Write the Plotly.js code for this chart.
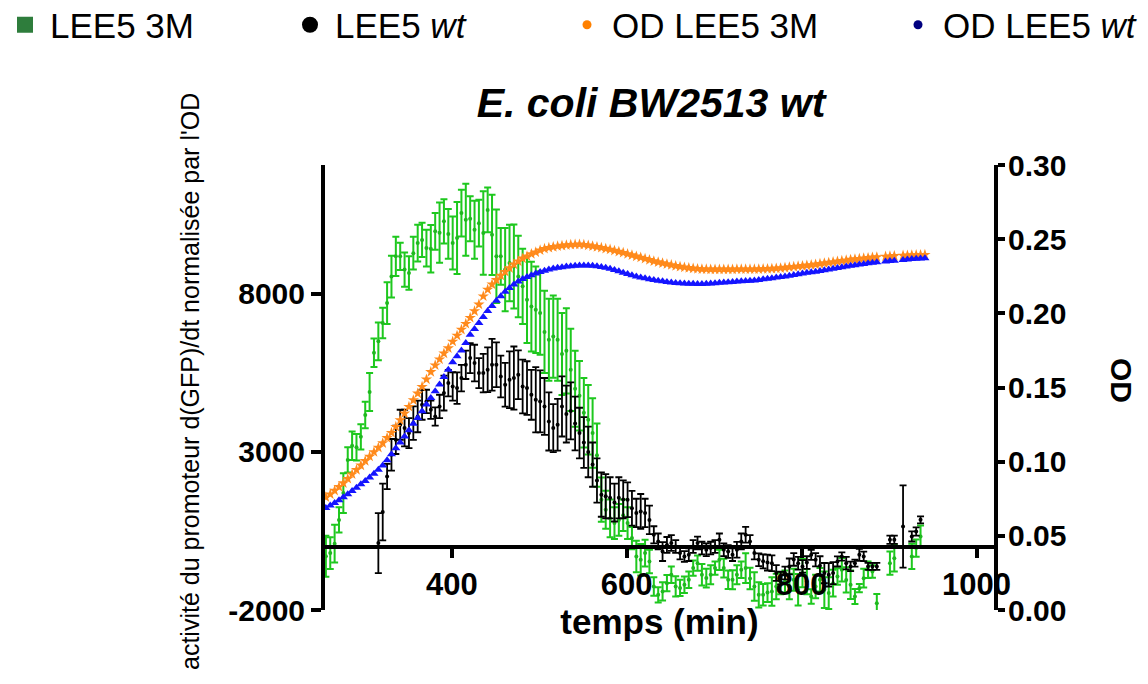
<!DOCTYPE html>
<html>
<head>
<meta charset="utf-8">
<script src="https://cdn.plot.ly/plotly-3.0.1.min.js"></script>
<style>
html,body{margin:0;padding:0;background:#fff;}
#chart{width:1148px;height:684px;}
</style>
</head>
<body>
<div id="chart"></div>
<script>
// time (min)
const timeMin = [
256,261,266,271,276,281,286,291,296,301,
306,311,316,321,326,331,336,341,346,351,
356,361,366,371,376,381,386,391,396,401,
406,411,416,421,426,431,436,441,446,451,
456,461,466,471,476,481,486,491,496,501,
506,511,516,521,526,531,536,541,546,551,
556,561,566,571,576,581,586,591,596,601,
606,611,616,621,626,631,636,641,646,651,
656,661,666,671,676,681,686,691,696,701,
706,711,716,721,726,731,736,741,746,751,
756,761,766,771,776,781,786,791,796,801,
806,811,816,821,826,831,836,841,846,851,
856,861,866,871,876,881,886,891,896,901,
906,911,916,921,926,931,936,941];

// LEE5 3M : d(GFP)/dt / OD
const lee5_3M = [
-300,-200,100,850,1700,2750,3200,3150,3480,4170,
4900,6140,6500,7080,7710,8550,9190,9190,8770,8660,
9290,9610,9710,9450,9430,9980,9940,10300,9900,9610,
9770,10560,10350,10380,10030,10240,9930,10660,9870,9190,
9190,8770,8980,8870,8550,8240,7820,7600,7500,7400,
6800,6550,6650,6550,6100,6200,5600,5000,4780,4240,
4020,3600,2900,1490,1170,900,750,850,1000,750,
275,-306,-411,-200,-464,-1256,-1519,-1413,-1150,-886,
-1256,-1300,-1200,-1044,-675,-517,-886,-991,-886,-675,
-411,-675,-1044,-1044,-886,-728,-675,-1000,-1256,-1519,
-1519,-1450,-1413,-1256,-1150,-1100,-1256,-1044,-1360,-833,
-1100,-1572,-1255,-1044,-1360,-1466,-1150,-939,-728,-1050,
-1203,-1572,-1308,-992,-728,-781,-1783,null,null,-517,
-359,null,null,null,-306,-42,327,null];
const lee5_3M_err = [
650,500,600,400,630,400,450,420,400,420,
600,450,600,480,660,660,620,430,540,530,
520,580,540,580,750,580,950,700,790,840,
1140,740,1140,710,920,740,1320,710,1270,1480,
900,1320,1210,1330,1290,1190,1370,1420,1370,1320,
1300,1300,1300,1300,1300,1350,1300,1200,1100,1100,
1100,1100,1000,700,600,600,500,500,500,500,
350,500,500,420,370,290,240,290,260,260,
320,260,260,260,240,240,340,300,300,210,
320,300,290,300,300,260,470,340,450,400,
340,300,450,400,350,350,400,350,500,450,
400,230,370,370,580,500,420,260,370,400,
450,240,130,300,260,200,290,0,0,370,
420,0,0,0,400,270,350,0];

// LEE5 wt : d(GFP)/dt / OD
const lee5_wt = [
null,null,null,null,null,null,null,null,null,null,
null,null,117,1100,2225,2911,3386,3861,3756,3597,
3914,4124,4494,4599,4335,4124,4440,4863,5180,5073,
5021,5338,5759,5971,5813,5496,5496,5601,5759,5759,
5390,5127,5285,5338,5443,5073,5021,4810,4652,4600,
4440,3966,3756,3861,4440,4200,4300,3900,3600,3300,
3000,2600,2100,1650,1600,1550,1400,1550,1500,1490,
1220,1070,1120,1070,850,380,170,-150,60,120,
10,-200,-306,-250,10,120,-40,-95,-40,10,
220,-95,-150,-250,-95,170,380,170,-200,-410,
-460,-500,-520,-830,-990,-830,-620,-400,-520,-620,
-500,-253,-411,-600,-833,-886,-833,-464,-306,-517,
-622,-517,-253,-306,-622,-622,-622,null,null,222,
222,null,643,null,327,485,854,null];
const lee5_wt_err = [
0,0,0,0,0,0,0,0,0,0,
0,0,950,900,400,500,450,475,580,475,
530,500,475,370,290,290,370,550,420,450,
500,420,450,475,580,475,610,710,820,710,
660,690,900,1000,770,850,850,790,1030,980,
900,920,760,820,950,900,900,850,800,800,
800,700,700,700,700,650,600,650,600,550,
550,450,550,450,450,270,250,300,250,250,
200,200,170,200,200,200,200,200,200,200,
200,200,200,200,250,250,250,200,200,200,
220,250,250,250,200,200,250,200,200,200,
200,160,210,300,320,370,350,160,130,200,
150,110,190,150,110,110,110,0,0,130,
130,0,1300,0,160,130,110,0];

// OD LEE5 3M
const od_3M = [
0.0760,0.0780,0.0805,0.0830,0.0855,0.0885,0.0915,0.0945,0.0975,0.1005,
0.1035,0.1065,0.1095,0.1125,0.1160,0.1195,0.1235,0.1280,0.1325,0.1370,
0.1415,0.1460,0.1505,0.1555,0.1605,0.1650,0.1690,0.1730,0.1765,0.1810,
0.1850,0.1890,0.1930,0.1970,0.2015,0.2060,0.2115,0.2160,0.2195,0.2225,
0.2255,0.2280,0.2305,0.2330,0.2350,0.2370,0.2385,0.2400,0.2412,0.2425,
0.2435,0.2442,0.2448,0.2452,0.2456,0.2460,0.2462,0.2464,0.2465,0.2462,
0.2458,0.2453,0.2448,0.2442,0.2436,0.2430,0.2423,0.2416,0.2408,0.2400,
0.2392,0.2384,0.2376,0.2368,0.2360,0.2352,0.2345,0.2338,0.2332,0.2326,
0.2320,0.2315,0.2310,0.2306,0.2303,0.2300,0.2298,0.2297,0.2296,0.2296,
0.2296,0.2296,0.2296,0.2296,0.2297,0.2297,0.2297,0.2297,0.2297,0.2298,
0.2299,0.2300,0.2301,0.2303,0.2305,0.2308,0.2311,0.2314,0.2317,0.2320,
0.2323,0.2326,0.2330,0.2334,0.2338,0.2342,0.2346,0.2350,0.2354,0.2358,
0.2362,0.2365,0.2368,0.2371,0.2374,0.2377,0.2379,null,0.2383,0.2385,
0.2387,null,0.2390,0.2391,0.2392,0.2393,0.2394,0.2395];

// OD LEE5 wt
const od_wt = [
0.0688,0.0705,0.0722,0.0740,0.0760,0.0780,0.0802,0.0825,0.0848,0.0870,
0.0893,0.0918,0.0945,0.0975,0.1010,0.1050,0.1090,0.1130,0.1170,0.1212,
0.1255,0.1295,0.1340,0.1385,0.1430,0.1475,0.1520,0.1570,0.1620,0.1670,
0.1710,0.1750,0.1800,0.1855,0.1895,0.1935,0.1975,0.2015,0.2050,0.2085,
0.2115,0.2145,0.2170,0.2195,0.2215,0.2232,0.2245,0.2257,0.2268,0.2278,
0.2287,0.2295,0.2302,0.2307,0.2311,0.2315,0.2318,0.2321,0.2323,0.2323,
0.2322,0.2320,0.2317,0.2313,0.2307,0.2300,0.2292,0.2283,0.2274,0.2265,
0.2257,0.2249,0.2242,0.2236,0.2230,0.2225,0.2220,0.2216,0.2212,0.2208,
0.2205,0.2203,0.2201,0.2200,0.2199,0.2198,0.2198,0.2199,0.2201,0.2203,
0.2206,0.2208,0.2210,0.2212,0.2214,0.2216,0.2218,0.2220,0.2222,0.2225,
0.2229,0.2233,0.2237,0.2241,0.2245,0.2249,0.2253,0.2258,0.2263,0.2268,
0.2273,0.2277,0.2281,0.2285,0.2290,0.2295,0.2300,0.2305,0.2310,0.2315,
0.2320,0.2325,0.2329,0.2333,0.2337,0.2341,0.2344,null,0.2349,0.2352,
0.2355,null,0.2360,0.2363,0.2366,0.2368,0.2370,0.2372];

const seriesNames = ['LEE5 3M', 'LEE5 <i>wt</i>', 'OD LEE5 3M', 'OD LEE5 <i>wt</i>'];
const xTicks = [400, 600, 800, 1000];
const yTicks = [-2000, 3000, 8000];
const y2Ticks = [0, 0.05, 0.10, 0.15, 0.20, 0.25, 0.30];

const FONT = 'Liberation Sans, Arial, Helvetica, sans-serif';
const W = 1148, H = 684;
const yRange = [-2000, 12080];

const traces = [
  {x: timeMin, y: lee5_3M, type: 'scatter', mode: 'markers', yaxis: 'y', showlegend: false,
   marker: {color: '#1fb81f', size: 4},
   error_y: {type: 'data', array: lee5_3M_err, visible: true, color: '#1ec81e', thickness: 2, width: 3.5}},
  {x: timeMin, y: lee5_wt, type: 'scatter', mode: 'markers', yaxis: 'y', showlegend: false,
   marker: {color: '#000000', size: 4},
   error_y: {type: 'data', array: lee5_wt_err, visible: true, color: '#000000', thickness: 1.8, width: 3.5}},
  {x: timeMin, y: od_3M, type: 'scatter', mode: 'markers', yaxis: 'y2', showlegend: false,
   marker: {color: '#ff8a1c', size: 8.5, symbol: 'star'}},
  {x: timeMin, y: od_wt, type: 'scatter', mode: 'markers', yaxis: 'y2', showlegend: false,
   marker: {color: '#1414ff', size: 8, symbol: 'triangle-up'}},
  // legend entries
  {x: [null], y: [null], type: 'scatter', mode: 'markers', name: seriesNames[0], legend: 'legend',
   marker: {color: '#2e7d3c', size: 16, symbol: 'square'}},
  {x: [null], y: [null], type: 'scatter', mode: 'markers', name: seriesNames[1], legend: 'legend2',
   marker: {color: '#000000', size: 16, symbol: 'circle'}},
  {x: [null], y: [null], type: 'scatter', mode: 'markers', name: seriesNames[2], legend: 'legend3', yaxis: 'y2',
   marker: {color: '#ff8000', size: 9, symbol: 'circle'}},
  {x: [null], y: [null], type: 'scatter', mode: 'markers', name: seriesNames[3], legend: 'legend4', yaxis: 'y2',
   marker: {color: '#000080', size: 9, symbol: 'circle'}}
];

function leg(xpx) {
  return {xref: 'container', yref: 'container', x: xpx / W, y: 1 - 25 / H,
          xanchor: 'left', yanchor: 'middle', orientation: 'h', itemwidth: 40,
          bgcolor: 'rgba(0,0,0,0)', borderwidth: 0,
          font: {family: FONT, size: 35, color: '#000'}};
}

const layout = {
  width: W, height: H,
  margin: {l: 325, r: 154, t: 165, b: 74, pad: 0},
  paper_bgcolor: '#fff', plot_bgcolor: '#fff',
  font: {family: FONT, color: '#000'},
  title: {text: '<b><i>E. coli BW2513 wt</i></b>', font: {family: FONT, size: 41, color: '#000'},
          xref: 'container', yref: 'container', x: 651 / W, y: 1 - 103 / H, xanchor: 'center', yanchor: 'middle'},
  xaxis: {range: [255, 1020], anchor: 'free', position: (0 - yRange[0]) / (yRange[1] - yRange[0]),
          showline: true, linecolor: '#000', linewidth: 4, showgrid: false, zeroline: false,
          ticks: 'outside', ticklen: 9, tickwidth: 4, tickcolor: '#000',
          tickvals: xTicks, ticktext: xTicks.map(String),
          tickfont: {family: FONT, size: 31, color: '#000', weight: 'bold'},
          title: {text: '<b>temps (min)</b>', font: {family: FONT, size: 35, color: '#000'}, standoff: 0}},
  yaxis: {range: yRange, showline: true, linecolor: '#000', linewidth: 4, showgrid: false, zeroline: false,
          ticks: 'outside', ticklen: 10, tickwidth: 4, tickcolor: '#000',
          tickvals: yTicks, ticktext: yTicks.map(String),
          tickfont: {family: FONT, size: 30, color: '#000', weight: 'bold'}},
  yaxis2: {range: [0, 0.30], overlaying: 'y', side: 'right', showline: true, linecolor: '#000', linewidth: 4,
           showgrid: false, zeroline: false, ticks: 'outside', ticklen: 7, tickwidth: 4, tickcolor: '#000',
           ticklabelstandoff: -3,
           tickvals: y2Ticks, ticktext: y2Ticks.map(v => v.toFixed(2)),
           tickfont: {family: FONT, size: 30, color: '#000', weight: 'bold'}},
  legend: leg(0), legend2: leg(285), legend3: leg(562), legend4: leg(893),
  annotations: [
    {xref: 'paper', yref: 'paper', x: (190 - 325) / 669, y: (610 - 382) / 445, xanchor: 'center', yanchor: 'middle',
     text: "activité du promoteur d(GFP)/dt normalisée par l'OD", textangle: -90, showarrow: false,
     font: {family: FONT, size: 25, color: '#000'}},
    {xref: 'paper', yref: 'paper', x: (1122 - 325) / 669, y: (610 - 380) / 445, xanchor: 'center', yanchor: 'middle',
     text: '<b>OD</b>', textangle: 90, showarrow: false,
     font: {family: FONT, size: 30, color: '#000'}}
  ]
};

Plotly.newPlot('chart', traces, layout, {displayModeBar: false, staticPlot: true});
</script>
</body>
</html>
